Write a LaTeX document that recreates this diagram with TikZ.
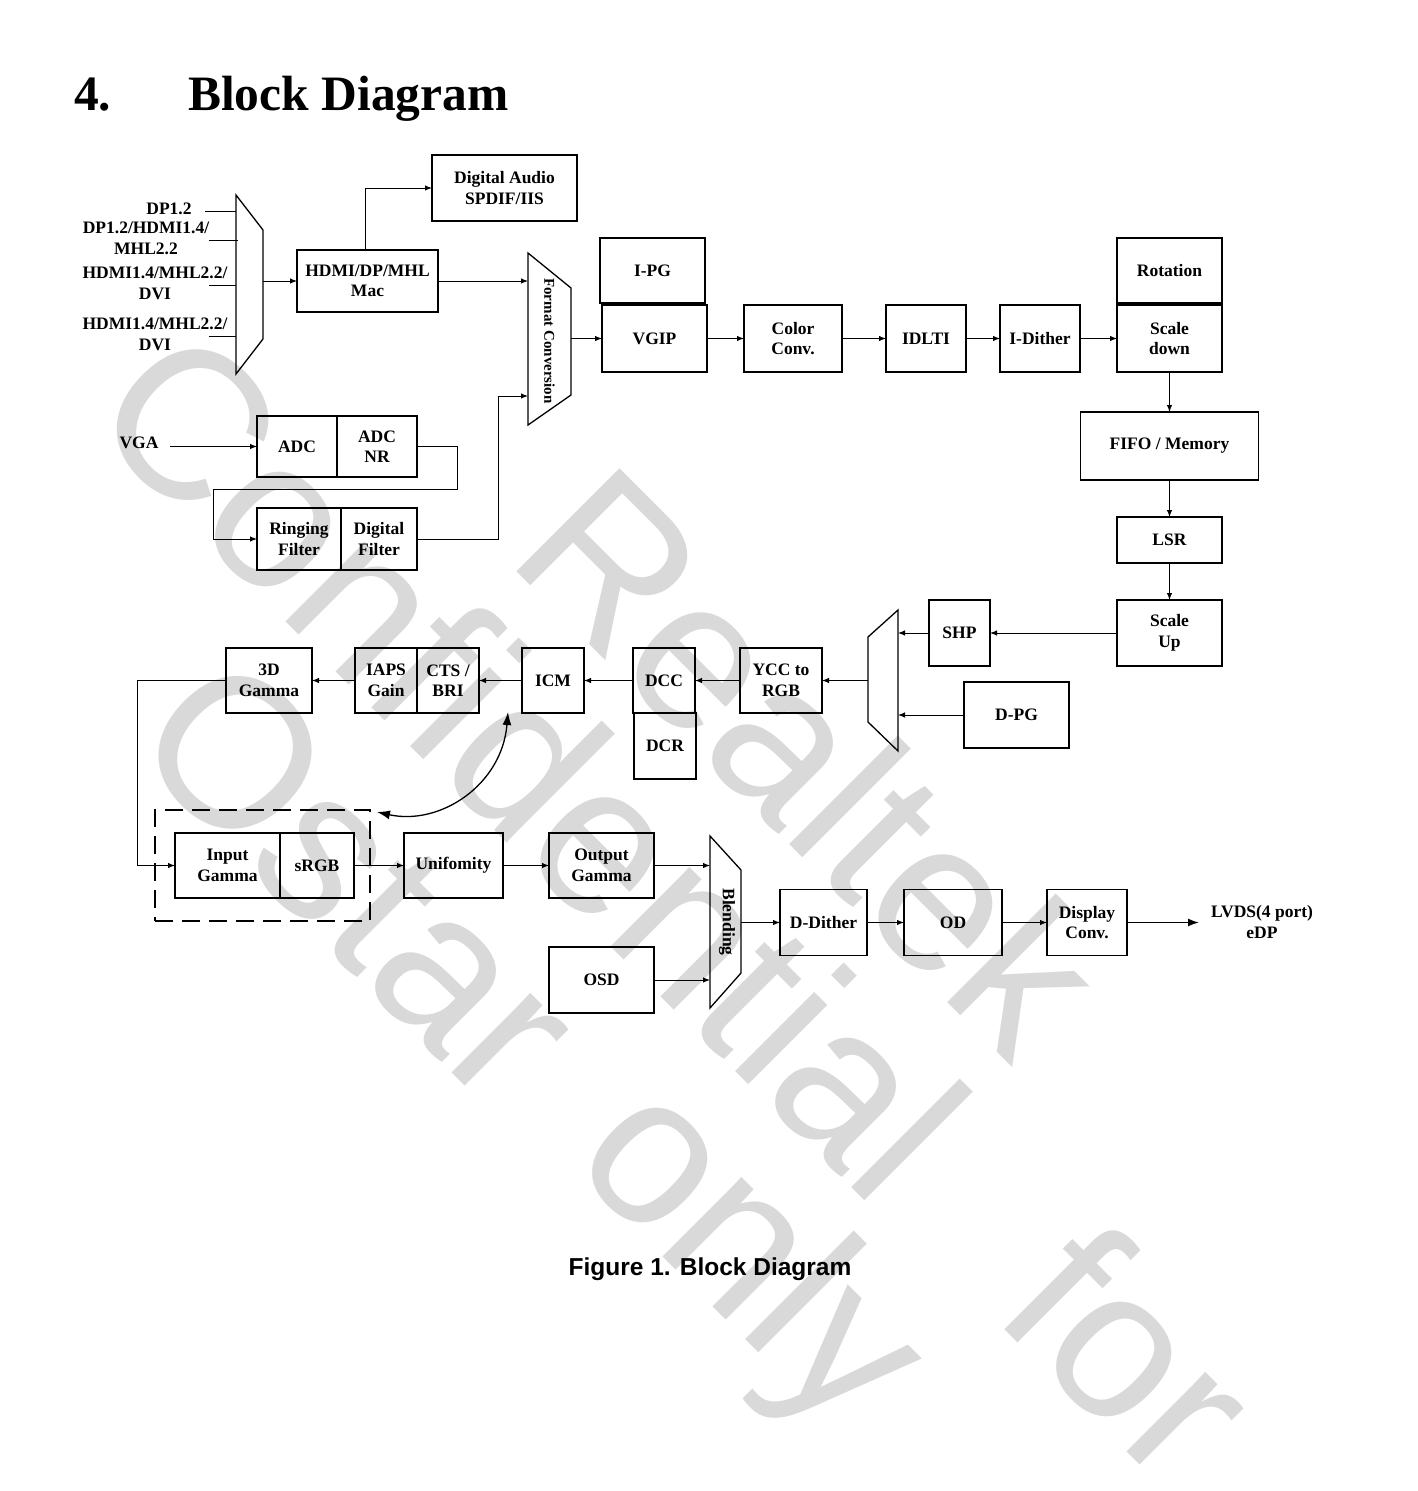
\documentclass[tikz,border=0pt]{standalone}
\usepackage{fontspec}
\setmainfont{Liberation Serif}
\newfontfamily\arialfont{Liberation Sans}
\usetikzlibrary{positioning, arrows.meta, calc}

\begin{document}
\begin{tikzpicture}[x=1pt, y=-1pt, node distance=0pt,
  box/.style={draw, line width=1.3pt, inner sep=0pt, outer sep=0pt, align=center,
    font=\fontsize{17.5}{20.5}\selectfont\bfseries, minimum height=66pt},
  lbl/.style={inner sep=0pt, align=center, font=\fontsize{17.5}{20.5}\selectfont\bfseries},
  conn/.style={line width=1pt, -{Latex[length=7pt,width=5.5pt]}},
  bigconn/.style={line width=1.6pt, -{Latex[length=11pt,width=8pt]}},
  dbl/.style={line width=1.3pt, {Latex[length=13pt,width=9pt]}-{Latex[length=13pt,width=9pt]}},
  wire/.style={line width=1pt},
  muxshape/.style={line width=1.3pt, line join=miter},
  wmark/.style={text=black!15, font=\arialfont\fontsize{212}{212}\selectfont, rotate=-45, inner sep=0pt}]

\useasboundingbox (0,0) rectangle (1417,1491);

% watermark %
\node[wmark] (wm-realtek) at (812,760) {Realtek};
\node[wmark] (wm-conf) at (533,762) {Confidential};
\node[wmark] (wm-for) at (1132,1350) {for};
\node[wmark] (wm-ostar) at (360,878) {Ostar};
\node[wmark] (wm-only) at (745,1262) {only};

% title and caption %
\node[anchor=base west, inner sep=0pt, font=\fontsize{49.5}{52}\selectfont\bfseries] (secnum) at (74,110) {4.};
\node[anchor=base west, inner sep=0pt, font=\fontsize{49.5}{52}\selectfont\bfseries] (title) at (188,110) {Block Diagram};
\node[anchor=base, inner sep=0pt, font=\arialfont\fontsize{24.5}{26}\selectfont\bfseries] (caption) at (710,1275) {Figure 1. Block Diagram};

% input labels %
\node[lbl] (lab-dp) at (169,209) {DP1.2};
\node[lbl] (lab-dphdmi) at (146,238.5) {DP1.2/HDMI1.4/\\MHL2.2};
\node[lbl] (lab-hdmi1) at (155,283.5) {HDMI1.4/MHL2.2/\\DVI};
\node[lbl] (lab-hdmi2) at (155,334.5) {HDMI1.4/MHL2.2/\\DVI};
\node[lbl] (vga) at (139,443) {VGA};
\node[lbl] (lvds) at (1262,922) {LVDS(4 port)\\eDP};

% input mux %
\draw[muxshape] (236,195) -- (263,230) -- (263,339) -- (236,374) -- cycle;
\coordinate (muxin-out) at (263,281);
\coordinate (in1-a) at (205,211); \coordinate (in1-b) at (236,211);
\coordinate (in2-a) at (209,240); \coordinate (in2-b) at (238,240);
\coordinate (in3-a) at (209,285); \coordinate (in3-b) at (236,285);
\coordinate (in4-a) at (209,336); \coordinate (in4-b) at (236,336);

% format conversion %
\draw[muxshape] (528,253) -- (571,288) -- (571,395) -- (528,425) -- cycle;
\node[lbl, rotate=-90, font=\fontsize{15}{17}\selectfont\bfseries] (fmt) at (549.5,341) {Format Conversion};
\coordinate (fc-w) at (528,340);
\coordinate (fc-w2) at (528,396);
\coordinate (fc-e) at (571,338.5);

% nodes %
\node[box, minimum width=145pt] (audio) at (504.5,188) {Digital Audio\\SPDIF/IIS};
\node[box, minimum width=141pt, minimum height=62pt] (mac) at (367.5,281) {HDMI/DP/MHL\\Mac};

\node[box, minimum width=105pt, minimum height=65pt] (ipg) at (652.5,270.5) {I-PG};
\node[box, minimum width=105pt, minimum height=67pt] (vgip) at (654.5,338.5) {VGIP};
\node[box, minimum width=98pt, minimum height=67pt] (color) at (793,338.5) {Color\\Conv.};
\node[box, minimum width=80pt, minimum height=67pt] (idlti) at (926,338.5) {IDLTI};
\node[box, minimum width=80pt, minimum height=67pt] (idither) at (1040,338.5) {I-Dither};
\node[box, minimum width=105pt, minimum height=65pt] (rotation) at (1169.5,270.5) {Rotation};
\node[box, minimum width=105pt, minimum height=67pt, below=2pt of rotation] (scaledown) {Scale\\down};
\node[box, minimum width=178pt, minimum height=68pt] (fifo) at (1169.5,446) {FIFO / Memory};
\node[box, minimum width=105pt, minimum height=46pt] (lsr) at (1169.5,540) {LSR};
\node[box, minimum width=105pt] (scaleup) at (1169.5,633) {Scale\\Up};
\node[box, minimum width=61pt] (shp) at (959.5,633) {SHP};
\node[box, minimum width=105pt] (dpg) at (1016.5,715) {D-PG};

\node[box, minimum width=80pt, minimum height=61pt] (adc) at (297,446.5) {ADC};
\node[box, minimum width=80pt, minimum height=61pt, right=of adc] (adcnr) {ADC\\NR};
\node[box, minimum width=84pt, minimum height=62pt] (ring) at (299,539) {Ringing\\Filter};
\node[box, minimum width=76pt, minimum height=62pt, right=of ring] (dfilt) {Digital\\Filter};

% output mux %
\draw[muxshape] (898,610) -- (898,751) -- (868,722) -- (868,637) -- cycle;
\coordinate (m2-e) at (898,680);
\coordinate (m2-w) at (868,680.5);

\node[box, minimum width=82pt, minimum height=65pt] (ycc) at (781,680.5) {YCC to\\RGB};
\node[box, minimum width=62pt, minimum height=65pt] (dcc) at (664,680.5) {DCC};
\node[box, minimum width=62pt] (dcr) at (665,746) {DCR};
\node[box, minimum width=62pt, minimum height=65pt] (icm) at (553,680.5) {ICM};
\node[box, minimum width=62pt, minimum height=65pt] (iaps) at (386,680.5) {IAPS\\Gain};
\node[box, minimum width=62pt, minimum height=65pt, right=of iaps] (cts) {CTS /\\BRI};
\node[box, minimum width=86pt, minimum height=65pt] (gamma3d) at (269,680.5) {3D\\Gamma};

\node[draw, dash pattern=on 18pt off 9pt, line width=1.3pt, inner sep=0pt, minimum width=215pt, minimum height=111pt] (grp) at (262.5,865.5) {};
\node[box, minimum width=105pt, minimum height=65pt] (ingamma) at (227.5,865.5) {Input\\Gamma};
\node[box, minimum width=74pt, minimum height=65pt, right=of ingamma] (srgb) {sRGB};
\node[box, minimum width=99pt, minimum height=65pt] (unif) at (453.5,865.5) {Unifomity};
\node[box, minimum width=105pt, minimum height=65pt] (outgamma) at (601.5,865.5) {Output\\Gamma};
\node[box, minimum width=105pt] (osd) at (601.5,980) {OSD};

% blending %
\draw[muxshape] (710,836) -- (741,870) -- (741,973) -- (710,1008) -- cycle;
\node[lbl, rotate=-90] (blend) at (727,922) {Blending};
\coordinate (bl-w) at (710,922);
\coordinate (bl-e) at (741,922.5);

\node[box, minimum width=87pt] (ddither) at (823.5,922.5) {D-Dither};
\node[box, minimum width=98pt] (od) at (953,922.5) {OD};
\node[box, minimum width=80pt] (dispconv) at (1087,922.5) {Display\\Conv.};
\coordinate (lvds-tip) at (1199,922.5);
\coordinate (vga-a) at (170,446.5);
\coordinate (cv-a) at (377,812);
\coordinate (cv-b) at (508,712);

% edges %
\draw[wire] (in1-a) -- (in1-b);
\draw[wire] (in2-a) -- (in2-b);
\draw[wire] (in3-a) -- (in3-b);
\draw[wire] (in4-a) -- (in4-b);
\draw[conn] (muxin-out) -- (mac.west);
\draw[conn] ([xshift=-2.5pt]mac.north) |- (audio.west);
\draw[conn] (mac.east) -- (mac.east -| fc-w);
\draw[conn] (fc-e) -- (vgip.west);
\draw[conn] (vgip.east) -- (color.west);
\draw[conn] (color.east) -- (idlti.west);
\draw[conn] (idlti.east) -- (idither.west);
\draw[conn] (idither.east) -- (scaledown.west);
\draw[conn] (scaledown.south) -- (fifo.north);
\draw[conn] (fifo.south) -- (lsr.north);
\draw[conn] (lsr.south) -- (scaleup.north);
\draw[conn] (scaleup.west) -- (shp.east);
\draw[conn] (shp.west) -- (shp.west -| m2-e);
\draw[conn] (dpg.west) -- (dpg.west -| m2-e);
\draw[conn] (m2-w) -- (ycc.east);
\draw[conn] (ycc.west) -- (dcc.east);
\draw[conn] (dcc.west) -- (icm.east);
\draw[conn] (icm.west) -- (cts.east);
\draw[conn] (iaps.west) -- (gamma3d.east);
\draw[conn] (gamma3d.west) -- ++(-89,0) |- (ingamma.west);
\draw[conn] (srgb.east) -- (unif.west);
\draw[conn] (unif.east) -- (outgamma.west);
\draw[conn] (outgamma.east) -- (outgamma.east -| bl-w);
\draw[conn] (osd.east) -- (osd.east -| bl-w);
\draw[conn] (bl-e) -- (ddither.west);
\draw[conn] (ddither.east) -- (od.west);
\draw[conn] (od.east) -- (dispconv.west);
\draw[bigconn] (dispconv.east) -- (lvds-tip);
\draw[conn] (vga-a) -- (adc.west);
\draw[conn] (adcnr.east) -- ++(40,0) |- (213,489) |- (ring.west);
\draw[conn] (dfilt.east) -- ++(81,0) |- (fc-w2);
\draw[dbl] (cv-a) .. controls (440,826) and (502,785) .. (cv-b);
\end{tikzpicture}
\end{document}
